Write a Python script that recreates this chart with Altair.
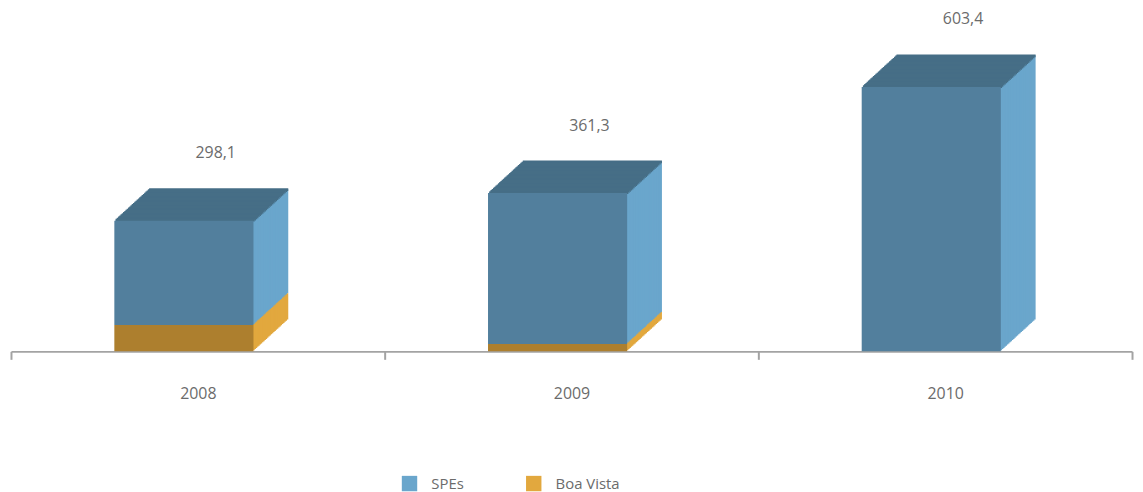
import altair as alt
import pandas as pd

# ---- data ----
years = ["2008", "2009", "2010"]
spes = [238.1, 344.3, 603.4]
boa_vista = [60.0, 17.0, 0.0]
totals = [298.1, 361.3, 603.4]
series_names = ["SPEs", "Boa Vista"]

rows = []
for i, yr in enumerate(years):
    lbl = f"{totals[i]:.1f}".replace(".", ",")
    rows.append({"year": yr, "series": "SPEs", "value": spes[i], "ord": 1,
                 "total": totals[i], "label": lbl})
    rows.append({"year": yr, "series": "Boa Vista", "value": boa_vista[i], "ord": 0,
                 "total": totals[i], "label": lbl})
df = pd.DataFrame(rows)

# ---- styling ----
FONT = "Open Sans"
TXT = "#6b6b6b"
SIDE = ["#6aa6cc", "#e2a83e"]
FRONT = ["#527f9d", "#ad7f2e"]
TOPC = "#466e86"
BAR_W = 140
FX = -14          # front face offset from band centre
DX, DY = 35, 32   # depth of the 3D box
N = 28

yscale = alt.Scale(domain=[0, 776], nice=False, zero=True)
X = alt.X("year:N", title=None,
          scale=alt.Scale(paddingInner=0, paddingOuter=0),
          axis=alt.Axis(labelAngle=0, tickBand="extent", domainColor="#a3a3a3",
                        domainWidth=2, tickColor="#a3a3a3", tickWidth=2, tickSize=8,
                        labelFont=FONT, labelFontSize=16, labelColor=TXT,
                        labelPadding=26))
Y = alt.Y("value:Q", stack="zero", scale=yscale, axis=None, title=None)
O = alt.Order("ord:Q")
C = alt.Color("series:N",
              scale=alt.Scale(domain=series_names, range=SIDE),
              legend=alt.Legend(orient="none", legendX=393, legendY=467,
                                direction="horizontal", title=None,
                                symbolType="square", symbolSize=240,
                                symbolStrokeWidth=0, symbolOpacity=1,
                                labelFont=FONT, labelFontSize=15, labelColor=TXT,
                                labelOffset=14, columnPadding=62, padding=0))

base = alt.Chart(df)
layers = []
step = DY / N
th = step + 1.6
for k in range(N, 0, -1):
    xo = FX + k * DX / N
    yo = -k * step
    layers.append(base.mark_bar(size=BAR_W, xOffset=xo, yOffset=yo).encode(
        x=X, y=Y, color=C, order=O))
    layers.append(base.transform_filter("datum.series == 'SPEs'").mark_tick(
        size=BAR_W, thickness=th, xOffset=xo, yOffset=yo + th / 2 - 0.8,
        color=TOPC, opacity=1).encode(
        x=X, y=alt.Y("total:Q", scale=yscale, axis=None, title=None)))

front = base.mark_bar(size=BAR_W, xOffset=FX).encode(
    x=X, y=Y, order=O,
    fill=alt.Fill("series:N", scale=alt.Scale(domain=series_names, range=FRONT),
                  legend=None))

labels = base.transform_filter("datum.series == 'SPEs'").mark_text(
    font=FONT, fontSize=16, color=TXT, dx=18, dy=-68, baseline="middle").encode(
    x=X, y=alt.Y("total:Q", scale=yscale, axis=None, title=None), text="label:N")

chart = alt.layer(*layers, front, labels).properties(
    width=1128, height=342,
    padding={"left": 2, "top": 2, "right": 2, "bottom": 0},
    background="white",
).configure_view(stroke=None)

chart.save("out.html", embed_options={"renderer": "svg", "actions": False})
